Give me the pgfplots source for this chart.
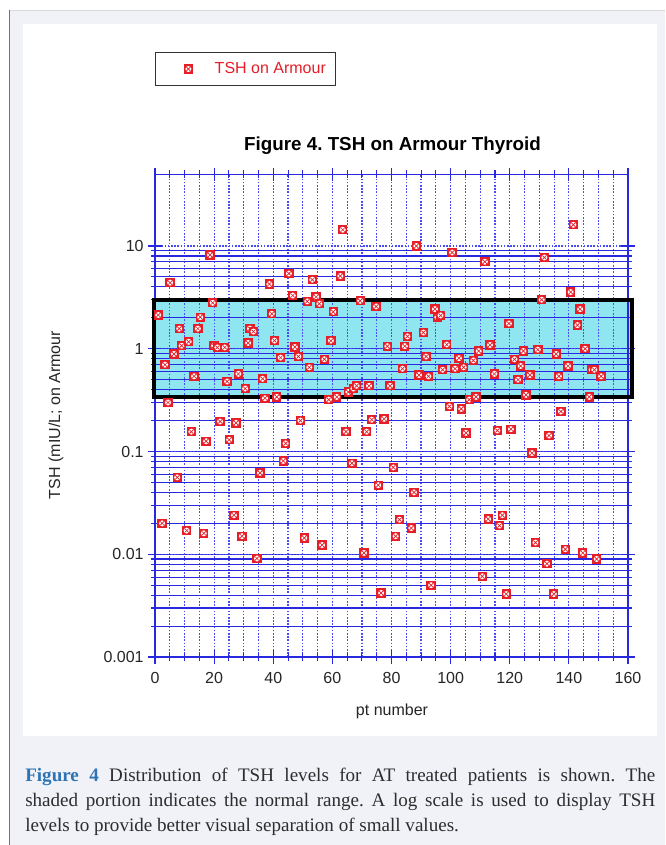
\documentclass[border=0pt]{standalone}
\usepackage{fontspec}
\setmainfont{Liberation Sans}
\newfontfamily\capfont{Liberation Serif}
\usepackage{pgfplots}
\usepackage{pgfplotstable}
\pgfplotsset{compat=1.18}

\definecolor{pagebg}{RGB}{241,242,248}
\definecolor{gridblue}{RGB}{40,40,225}
\definecolor{dotblue}{RGB}{75,75,245}
\definecolor{normcyan}{RGB}{143,229,240}
\definecolor{tshred}{RGB}{230,30,40}
\definecolor{capblue}{RGB}{46,116,181}
\definecolor{captext}{RGB}{45,45,45}

% red square with white circle and red cross
\pgfdeclareplotmark{tsh}{%
  \pgfpathrectangle{\pgfpoint{-\pgfplotmarksize}{-\pgfplotmarksize}}{\pgfpoint{2\pgfplotmarksize}{2\pgfplotmarksize}}%
  \pgfsetfillcolor{tshred}\pgfusepath{fill}%
  \pgfpathcircle{\pgfpointorigin}{0.64\pgfplotmarksize}%
  \pgfsetfillcolor{white}\pgfusepath{fill}%
  \pgfpathmoveto{\pgfpoint{-0.42\pgfplotmarksize}{-0.42\pgfplotmarksize}}%
  \pgfpathlineto{\pgfpoint{0.42\pgfplotmarksize}{0.42\pgfplotmarksize}}%
  \pgfpathmoveto{\pgfpoint{-0.42\pgfplotmarksize}{0.42\pgfplotmarksize}}%
  \pgfpathlineto{\pgfpoint{0.42\pgfplotmarksize}{-0.42\pgfplotmarksize}}%
  \pgfsetstrokecolor{tshred}\pgfsetlinewidth{0.5pt}\pgfusepath{stroke}%
}

\pgfplotstableread{
x y
-0.3 0.34
161.2 0.34
161.2 3.0
-0.3 3.0
-0.3 0.34
161.2 0.34
}\normbox

\pgfplotstableread{
x y
1.1 2.13
2.4 0.020
3.4 0.70
4.4 0.30
5.1 4.4
6.4 0.89
7.5 0.056
8.2 1.57
9.0 1.07
10.7 0.017
11.4 1.17
12.3 0.156
13.2 0.54
14.5 1.57
15.3 2.03
16.5 0.016
17.3 0.126
18.6 8.2
19.5 2.8
20.0 1.07
21.1 1.03
22.0 0.196
23.6 1.03
24.4 0.48
25.1 0.13
26.7 0.024
27.4 0.19
28.2 0.57
29.4 0.015
30.5 0.41
31.5 1.14
32.1 1.57
33.3 1.47
34.5 0.0091
35.5 0.062
36.4 0.51
37.2 0.33
38.7 4.26
39.5 2.19
40.4 1.2
41.2 0.34
42.5 0.82
43.4 0.081
44.2 0.12
45.3 5.4
46.6 3.3
47.3 1.04
48.5 0.84
49.2 0.20
50.5 0.0144
51.5 2.89
52.2 0.66
53.2 4.7
54.5 3.2
55.6 2.74
56.5 0.0123
57.3 0.79
58.8 0.32
59.5 1.2
60.3 2.29
61.5 0.34
62.7 5.1
63.5 14.4
64.6 0.156
65.4 0.38
66.6 0.077
67.1 0.41
68.2 0.436
69.4 2.93
70.7 0.0103
71.6 0.156
72.4 0.436
73.3 0.204
74.8 2.58
75.5 0.047
76.5 0.0042
77.5 0.208
78.6 1.06
79.5 0.436
80.6 0.07
81.4 0.015
82.7 0.0217
83.7 0.64
84.5 1.06
85.4 1.32
86.7 0.018
87.6 0.040
88.4 10.0
89.3 0.555
90.8 1.44
91.7 0.84
92.5 0.54
93.4 0.005
94.7 2.43
95.5 2.03
96.6 2.11
97.3 0.625
98.7 1.10
99.6 0.275
100.5 8.65
101.5 0.64
102.8 0.81
103.6 0.26
104.4 0.66
105.2 0.152
106.3 0.32
107.7 0.77
108.6 0.34
109.5 0.95
110.7 0.0061
111.6 7.03
112.7 0.022
113.3 1.09
114.8 0.57
115.8 0.16
116.5 0.019
117.5 0.024
118.8 0.0041
119.7 1.76
120.4 0.165
121.6 0.79
122.8 0.50
123.7 0.68
124.6 0.95
125.5 0.356
126.8 0.555
127.5 0.0966
128.7 0.013
129.5 0.98
130.8 3.0
131.7 7.74
132.6 0.0081
133.3 0.143
134.9 0.0041
135.7 0.89
136.6 0.54
137.3 0.245
138.8 0.0112
139.7 0.68
140.6 3.56
141.5 16.1
142.9 1.70
143.8 2.43
144.7 0.0103
145.5 1.0
146.9 0.34
147.7 0.625
148.6 0.625
149.4 0.009
150.9 0.54
}\tshdata

\begin{document}
\frenchspacing
\begin{tikzpicture}
\begin{scope}[x=0.75pt,y=-0.75pt]
\useasboundingbox (0,0) rectangle (665,845);
\fill[white] (0,0) rectangle (665,845);
\fill[pagebg] (9,10) rectangle (665,845);
\draw[black!15, line width=0.75pt] (9,10.5) -- (665,10.5);
\draw[black!55, line width=0.9pt] (9.5,10) -- (9.5,845);
\fill[white] (23,24) rectangle (657,736);
\end{scope}

% shaded normal range, underneath the grid
\begin{axis}[
    at={(116.25pt,-492.75pt)}, anchor=south west,
    scale only axis, width=354.75pt, height=362.1pt, clip=false,
    xmin=0, xmax=160, ymin=0.001, ymax=50, ymode=log,
    hide axis]
\addplot[fill=normcyan, draw=none] table[x=x, y=y] {\normbox};
\end{axis}

\begin{axis}[
    at={(116.25pt,-492.75pt)}, anchor=south west,
    scale only axis, width=354.75pt, height=362.1pt, clip=false,
    xmin=0, xmax=160, ymin=0.001, ymax=50, ymode=log,
    xtick={0,20,40,60,80,100,120,140,160},
    xticklabels={0,20,40,60,80,100,120,140,160},
    minor x tick num=3,
    ytick={0.001,0.01,0.1,1,10},
    yticklabels={0.001,0.01,0.1,1,10},
    tick pos=both, xticklabel pos=lower, yticklabel pos=left,
    grid=both,
    major grid style={dotblue, line width=0.9pt, dash pattern=on 1.2pt off 1.2pt},
    minor x grid style={dotblue, line width=0.9pt, dash pattern=on 1.2pt off 1.2pt},
    minor y grid style={gridblue, line width=0.8pt, solid},
    axis line style={gridblue, line width=1pt},
    tick style={gridblue, line width=0.8pt},
    tick align=center, major tick length=10pt, minor tick length=6pt,
    ticklabel style={font=\fontsize{12}{14}\selectfont, text=black!85},
    xticklabel style={yshift=-3pt},
    legend style={at={(0,1.253)}, anchor=north west, draw=black!80,
        line width=0.6pt, font=\fontsize{12}{14}\selectfont, text=tshred,
        inner xsep=5pt, inner ysep=5.5pt},
    legend cell align=left,
    legend image code/.code={%
        \path[draw=none, fill=none] (0pt,-4pt) rectangle (37.5pt,4pt);
        \draw[mark=tsh] plot coordinates {(19.75pt,0pt)};},
]
\addplot[draw=black, line width=3pt, line join=miter, forget plot]
    table[x=x, y=y] {\normbox};
\addplot[only marks, mark=tsh, mark size=3.5pt] table[x=x, y=y] {\tshdata};
\addlegendentry{TSH on Armour}
\end{axis}

\begin{scope}[x=0.75pt,y=-0.75pt]
\node[anchor=base, font=\bfseries\fontsize{14.1}{17}\selectfont] at (392.5,151) {Figure 4. TSH on Armour Thyroid};
\node[anchor=base, rotate=90, font=\fontsize{12}{14}\selectfont, text=black!85] at (60,415) {TSH (mIU/L; on Armour};
\node[anchor=base, font=\fontsize{12}{14}\selectfont, text=black!85] at (392,715) {pt number};

\node[anchor=north west, inner sep=0pt, text width=472.5pt, align=justify,
      font=\capfont\fontsize{14.3}{18.75}\selectfont, text=captext] at (25,768)
  {\textcolor{capblue}{\textbf{Figure 4}} Distribution of TSH levels for AT treated patients is shown. The\linebreak
   shaded portion indicates the normal range. A log scale is used to display TSH\linebreak
   levels to provide better visual separation of small values.};
\end{scope}
\end{tikzpicture}
\end{document}
